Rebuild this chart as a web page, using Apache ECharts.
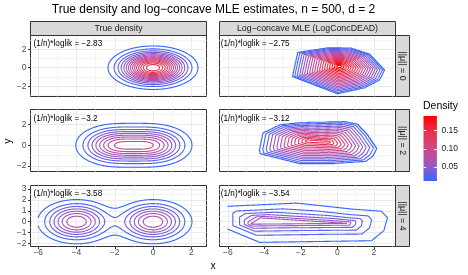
<!DOCTYPE html>
<html><head><meta charset="utf-8">
<script src="https://cdn.jsdelivr.net/npm/echarts@6/dist/echarts.min.js"></script>
<style>html,body{margin:0;padding:0;background:#fff}#c{width:468px;height:275px}</style>
</head><body><div id="c"></div>
<script>
// ================= DATA =================
const titleText = 'True density and log\u2212concave MLE estimates, n = 500, d = 2';
const colLabels = ['True density', 'Log\u2212concave MLE (LogConcDEAD)'];
const rowLabels = ['||\u03bc|| = 0', '||\u03bc|| = 2', '||\u03bc|| = 4'];
const loglikTrue = [-2.83, -3.2, -3.58];
const loglikMLE = [-2.75, -3.12, -3.54];
// true density: equal mixture of two N(mean, I) components per row
const mixWeights = [0.5, 0.5];
const trueMeans = [
  [[0, 0], [0, 0]],
  [[0, 0], [-2, 0]],
  [[0, 0], [-4, 0]]
];
// contour levels (density)
const contourLevels = [0.01,0.02,0.03,0.04,0.05,0.06,0.07,0.08,0.09,0.10,0.11,0.12,0.13,0.14,0.15,0.16,0.17,0.18,0.19];
// log-concave MLE: outer support polygon, and the top (core) vertices with their densities
const mleHullDensity = 0.0095;
const mleHull = [
  [[-2.19,1.66],[-0.42,2.2],[0.77,2.13],[1.78,1.48],[2.6,-0.25],[2.32,-1.33],[1.5,-2.19],[0.0,-2.84],[-2.48,-0.97]],
  [[-4.1,1.19],[-3.14,2.01],[-2.04,2.21],[0.42,2.31],[1.13,2.06],[1.68,0.99],[2.18,-0.31],[1.96,-1.04],[1.57,-1.57],[-0.4,-1.81],[-2.04,-1.81],[-4.24,-0.84],[-4.29,-0.46]],
  [[-6.4,1.42],[-2.2,1.75],[0.8,1.2],[2.45,1.0],[2.8,0.4],[2.6,-0.85],[1.9,-1.8],[-4.25,-1.95],[-6.4,-0.45]]
];
const mleCore = [
  [[0.1, 0.15]],
  [[-1.6, 0.42], [-0.5, 0.3]],
  [[-4.7, -0.2], [-4.2, 0.32], [0.5, -0.15]]
];
const mleCoreDensity = [[0.2], [0.148, 0.146], [0.0618, 0.0618, 0.0606]];
// how the density falls off between top and support edge (1 = even spacing of contours, 0 = log-linear)
const mleProfilePower = [1, 1, 0];
const gridXMin = -6;           // evaluation grid starts at x = -6
const xTicks = [-6, -4, -2, 0, 2];
const xMinor = [[-5, -3, -1, 1], [-5, -3, -1, 1, 3]];
const yTicks = [[-2, 0, 2], [-2, 0, 2], [-2, -1, 0, 1, 2, 3]];
const yMinor = [[-3, -1, 1, 3], [-1, 1, 3], [-1.5, -0.5, 0.5, 1.5, 2.5]];
const xRange = [[-6.405, 2.797], [-6.455, 3.178]];
const yRange = [[-3.11, 3.48], [-2.538, 3.467], [-2.284, 3.333]];
const legendTicks = [0.05, 0.10, 0.15];
const legendTitle = 'Density';

// ================= LAYOUT / STYLE =================
const FONT = '"Liberation Sans", Arial, Helvetica, sans-serif';
const colLeft = [30.5, 219.5], colWidth = 176;
const rowTop = [35.5, 109.5, 185.5], rowHeight = [61, 62, 61];
const colorStops = ['#3366FF', '#A157C2', '#CE4787', '#EA314D', '#FF0000'];
const LW = 1.1;

function hex2rgb(h) { return [parseInt(h.slice(1,3),16), parseInt(h.slice(3,5),16), parseInt(h.slice(5,7),16)]; }
const stopRGB = colorStops.map(hex2rgb);
function colorAt(t) {
  t = Math.max(0, Math.min(1, t));
  const s = t * (stopRGB.length - 1);
  const k = Math.min(stopRGB.length - 2, Math.floor(s));
  const f = s - k, a = stopRGB[k], b = stopRGB[k + 1];
  return 'rgb(' + a.map((v, i) => Math.round(v + (b[i] - v) * f)).join(',') + ')';
}
const lvMin = contourLevels[0], lvMax = contourLevels[contourLevels.length - 1];
const levelColor = lv => colorAt((lv - lvMin) / (lvMax - lvMin));

// ================= CONTOURING =================
function contourGrid(fn, x0, x1, y0, y1, step, levels) {
  const nx = Math.round((x1 - x0) / step) + 1, ny = Math.round((y1 - y0) / step) + 1;
  const dx = (x1 - x0) / (nx - 1), dy = (y1 - y0) / (ny - 1);
  const N = nx * ny;
  const Z = new Float64Array(N);
  for (let i = 0; i < nx; i++) for (let j = 0; j < ny; j++) Z[i * ny + j] = fn(x0 + i * dx, y0 + j * dy);
  const res = [];
  levels.forEach(lev => {
    const L = Math.log(lev);
    const pts = new Map();
    const segs = [];
    const key = (a, b) => {
      const k = a < b ? a * N + b : b * N + a;
      if (!pts.has(k)) {
        const va = Z[a], vb = Z[b], t = (L - va) / (vb - va);
        const ai = (a / ny) | 0, aj = a % ny, bi = (b / ny) | 0, bj = b % ny;
        pts.set(k, [x0 + (ai + t * (bi - ai)) * dx, y0 + (aj + t * (bj - aj)) * dy]);
      }
      return k;
    };
    const tri = (p, q, r) => {
      const sp = Z[p] > L, sq = Z[q] > L, sr = Z[r] > L;
      if (sp === sq && sq === sr) return;
      const ks = [];
      if (sp !== sq) ks.push(key(p, q));
      if (sq !== sr) ks.push(key(q, r));
      if (sr !== sp) ks.push(key(r, p));
      segs.push(ks);
    };
    for (let i = 0; i < nx - 1; i++) for (let j = 0; j < ny - 1; j++) {
      const a = i * ny + j, b = a + ny, c = b + 1, d = a + 1;
      tri(a, b, c); tri(a, c, d);
    }
    if (!segs.length) return;
    const adj = new Map();
    segs.forEach((s, idx) => s.forEach(k => { let l = adj.get(k); if (!l) adj.set(k, l = []); l.push(idx); }));
    const used = new Uint8Array(segs.length);
    const walk = start => {
      const out = []; let cur = start;
      for (;;) {
        const l = adj.get(cur); let nxt = -1;
        for (const t of l) if (!used[t]) { nxt = t; break; }
        if (nxt < 0) break;
        used[nxt] = 1;
        const s = segs[nxt]; cur = s[0] === cur ? s[1] : s[0];
        out.push(cur);
      }
      return out;
    };
    for (let s = 0; s < segs.length; s++) {
      if (used[s]) continue; used[s] = 1;
      const fwd = walk(segs[s][1]);
      const bwd = walk(segs[s][0]);
      const keys = bwd.reverse().concat([segs[s][0], segs[s][1]], fwd);
      res.push({ level: lev, pts: keys.map(k => pts.get(k)) });
    }
  });
  return res;
}

// triangulate the ring between the support polygon H and the core polygon C
function ringTriangles(H, C) {
  const cx = C.reduce((s, p) => s + p[0], 0) / C.length, cy = C.reduce((s, p) => s + p[1], 0) / C.length;
  const ang = p => Math.atan2(p[1] - cy, p[0] - cx);
  const hs = H.slice().sort((a, b) => ang(a) - ang(b));
  const cs = C.slice().sort((a, b) => ang(a) - ang(b));
  const n = hs.length, m = cs.length;
  const tris = [];
  if (m >= 3) for (let k = 1; k < m - 1; k++) tris.push([cs[0], cs[k], cs[k + 1]]);
  const near = p => { let bi = 0, bd = Infinity; cs.forEach((c, k) => { const d = Math.hypot(p[0] - c[0], p[1] - c[1]); if (d < bd) { bd = d; bi = k; } }); return bi; };
  const asg = hs.map(near);
  for (let i = 0; i < n; i++) {
    const hi = hs[i], hj = hs[(i + 1) % n], a = asg[i], b = asg[(i + 1) % n];
    tris.push([hi, cs[a], hj]);
    let k = a, guard = 0;
    while (k !== b && guard++ < m) { const k2 = (k + 1) % m; tris.push([hj, cs[k], cs[k2]]); k = k2; }
  }
  return tris;
}

function makeTent(hull, hullDens, core, coreDens, power) {
  const g = f => power === 0 ? Math.log(f) : Math.pow(f, power);
  const ginvLog = v => power === 0 ? v : (v > 0 ? Math.log(v) / power : -12);
  const H = hull.map(p => [p[0], p[1], g(hullDens)]);
  const C = core.map((p, k) => [p[0], p[1], g(coreDens[k])]);
  const tris = [];
  ringTriangles(H, C).forEach(([a, b, c]) => {
    const det = (b[1] - c[1]) * (a[0] - c[0]) + (c[0] - b[0]) * (a[1] - c[1]);
    if (Math.abs(det) < 1e-12) return;
    tris.push({ a, b, c, det,
      minx: Math.min(a[0], b[0], c[0]) - 1e-9, maxx: Math.max(a[0], b[0], c[0]) + 1e-9,
      miny: Math.min(a[1], b[1], c[1]) - 1e-9, maxy: Math.max(a[1], b[1], c[1]) + 1e-9 });
  });
  return (x, y) => {
    for (const t of tris) {
      if (x < t.minx || x > t.maxx || y < t.miny || y > t.maxy) continue;
      const l1 = ((t.b[1] - t.c[1]) * (x - t.c[0]) + (t.c[0] - t.b[0]) * (y - t.c[1])) / t.det;
      const l2 = ((t.c[1] - t.a[1]) * (x - t.c[0]) + (t.a[0] - t.c[0]) * (y - t.c[1])) / t.det;
      const l3 = 1 - l1 - l2;
      if (l1 >= -1e-9 && l2 >= -1e-9 && l3 >= -1e-9) return ginvLog(l1 * t.a[2] + l2 * t.b[2] + l3 * t.c[2]);
    }
    return -12;
  };
}

function trueLogDensity(r) {
  const means = trueMeans[r];
  return (x, y) => {
    let f = 0;
    means.forEach((m, k) => {
      const dx = x - m[0], dy = y - m[1];
      f += mixWeights[k] * Math.exp(-(dx * dx + dy * dy) / 2) / (2 * Math.PI);
    });
    return Math.log(f);
  };
}

// ================= CHART =================
const chart = echarts.init(document.getElementById('c'), null, { renderer: 'canvas' });
const fmt = v => (v < 0 ? '\u2212' : '') + Math.abs(v);
const grids = [], xAxes = [], yAxes = [], series = [], G = [];

for (let r = 0; r < 3; r++) {
  for (let c = 0; c < 2; c++) {
    const g = r * 2 + c;
    const xr = xRange[c], yr = yRange[r];
    grids.push({ left: colLeft[c], top: rowTop[r], width: colWidth, height: rowHeight[r],
      show: true, backgroundColor: '#FFFFFF', borderColor: '#333333', borderWidth: 1,
      containLabel: false, outerBoundsMode: 'none' });
    xAxes.push({ type: 'value', gridIndex: g, min: xr[0], max: xr[1], position: 'bottom',
      axisLine: { show: false, onZero: false },
      axisTick: { show: r === 2, length: 2.5, lineStyle: { color: '#333333', width: 1 }, customValues: xTicks },
      axisLabel: { show: r === 2, customValues: xTicks, margin: 2, color: '#4D4D4D', fontSize: 8.5, fontFamily: FONT, formatter: fmt },
      splitLine: { show: true, lineStyle: { color: '#EBEBEB', width: 1 } } });
    xAxes.push({ type: 'value', gridIndex: g, min: xr[0], max: xr[1], position: 'top',
      axisLine: { show: false, onZero: false },
      axisTick: { show: false, customValues: xMinor[c] },
      axisLabel: { show: false, customValues: xMinor[c] },
      splitLine: { show: true, lineStyle: { color: '#F4F4F4', width: 1 } } });
    yAxes.push({ type: 'value', gridIndex: g, min: yr[0], max: yr[1], position: 'left',
      axisLine: { show: false, onZero: false },
      axisTick: { show: c === 0, length: 2.5, lineStyle: { color: '#333333', width: 1 }, customValues: yTicks[r] },
      axisLabel: { show: c === 0, customValues: yTicks[r], margin: 4, color: '#4D4D4D', fontSize: 8.5, fontFamily: FONT, formatter: fmt },
      splitLine: { show: true, lineStyle: { color: '#EBEBEB', width: 1 } } });
    yAxes.push({ type: 'value', gridIndex: g, min: yr[0], max: yr[1], position: 'right',
      axisLine: { show: false, onZero: false },
      axisTick: { show: false, customValues: yMinor[r] },
      axisLabel: { show: false, customValues: yMinor[r] },
      splitLine: { show: true, lineStyle: { color: '#F4F4F4', width: 1 } } });

    const fn = c === 0 ? trueLogDensity(r)
      : makeTent(mleHull[r], mleHullDensity, mleCore[r], mleCoreDensity[r], mleProfilePower[r]);
    const chains = contourGrid(fn, gridXMin, xr[1], yr[0], yr[1], 0.04, contourLevels);
    series.push({ type: 'custom', coordinateSystem: 'cartesian2d', xAxisIndex: 2 * g, yAxisIndex: 2 * g,
      clip: true, silent: true, animation: false,
      data: chains.map((ch, i) => [ch.pts[0][0], ch.pts[0][1], ch.level, i]),
      renderItem: (params, api) => {
        const ch = chains[params.dataIndex];
        return { type: 'polyline', shape: { points: ch.pts.map(p => api.coord(p)) },
          style: { stroke: levelColor(ch.level), fill: 'none', lineWidth: LW, lineJoin: 'round', lineCap: 'round' } };
      } });

    // loglik annotation (data y = 2.55)
    const ay = rowTop[r] + (yr[1] - 2.55) / (yr[1] - yr[0]) * rowHeight[r];
    const val = c === 0 ? loglikTrue[r] : loglikMLE[r];
    G.push({ type: 'text', x: colLeft[c] + (c === 0 ? 3 : 1.3), y: ay, z: 100,
      style: { text: '(1/n)*loglik = ' + fmt(val), fontSize: 8.2, fontFamily: FONT, fill: '#000',
        textAlign: 'left', textVerticalAlign: 'middle' } });
  }
  // right strip
  G.push({ type: 'rect', z: 90, shape: { x: 395.5, y: rowTop[r], width: 14, height: rowHeight[r] },
    style: { fill: '#D9D9D9', stroke: '#333333', lineWidth: 1 } });
  G.push({ type: 'text', z: 100, x: 402.5, y: rowTop[r] + rowHeight[r] / 2, rotation: -Math.PI / 2,
    style: { text: rowLabels[r], fontSize: 8.8, fontFamily: FONT, fill: '#1A1A1A', textAlign: 'center', textVerticalAlign: 'middle' } });
}
// top strips
for (let c = 0; c < 2; c++) {
  G.push({ type: 'rect', z: 90, shape: { x: colLeft[c], y: 21.5, width: colWidth, height: 14 },
    style: { fill: '#D9D9D9', stroke: '#333333', lineWidth: 1 } });
  G.push({ type: 'text', z: 100, x: colLeft[c] + colWidth / 2, y: 28.6,
    style: { text: colLabels[c], fontSize: 8.8, fontFamily: FONT, fill: '#1A1A1A', textAlign: 'center', textVerticalAlign: 'middle' } });
}
// title and axis titles
G.push({ type: 'text', z: 100, x: 213.5, y: 9.5,
  style: { text: titleText, fontSize: 12, fontFamily: FONT, fill: '#000', textAlign: 'center', textVerticalAlign: 'middle' } });
G.push({ type: 'text', z: 100, x: 213, y: 266,
  style: { text: 'x', fontSize: 10.5, fontFamily: FONT, fill: '#000', textAlign: 'center', textVerticalAlign: 'middle' } });
G.push({ type: 'text', z: 100, x: 8.5, y: 141, rotation: Math.PI / 2,
  style: { text: 'y', fontSize: 10.5, fontFamily: FONT, fill: '#000', textAlign: 'center', textVerticalAlign: 'middle' } });

// legend (colour bar)
const barX = 423.5, barTop = 116, barBottom = 181, barW = 13.4;
const legendY = v => barBottom - (v - lvMin) / (lvMax - lvMin) * (barBottom - barTop);
const gradStops = [];
for (let k = 0; k <= 20; k++) gradStops.push({ offset: k / 20, color: colorAt(1 - k / 20) });
G.push({ type: 'rect', z: 90, shape: { x: barX, y: barTop, width: barW, height: barBottom - barTop },
  style: { fill: { type: 'linear', x: 0, y: 0, x2: 0, y2: 1, colorStops: gradStops } } });
legendTicks.forEach(v => {
  const y = Math.round(legendY(v)) + 0.5;
  G.push({ type: 'line', z: 95, shape: { x1: barX, y1: y, x2: barX + 2.7, y2: y }, style: { stroke: '#FFFFFF', lineWidth: 1 } });
  G.push({ type: 'line', z: 95, shape: { x1: barX + barW - 2.7, y1: y, x2: barX + barW, y2: y }, style: { stroke: '#FFFFFF', lineWidth: 1 } });
  G.push({ type: 'text', z: 100, x: 441.5, y: legendY(v),
    style: { text: v.toFixed(2), fontSize: 8.5, fontFamily: FONT, fill: '#1A1A1A', textAlign: 'left', textVerticalAlign: 'middle' } });
});
G.push({ type: 'text', z: 100, x: 423, y: 106,
  style: { text: legendTitle, fontSize: 10.5, fontFamily: FONT, fill: '#000', textAlign: 'left', textVerticalAlign: 'middle' } });

chart.setOption({
  animation: false,
  backgroundColor: '#FFFFFF',
  grid: grids, xAxis: xAxes, yAxis: yAxes, series: series,
  graphic: { elements: G }
});
</script>
</body></html>
